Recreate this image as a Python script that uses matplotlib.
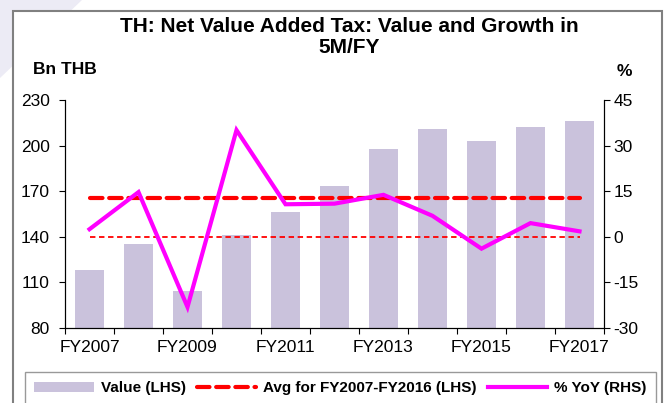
import numpy as np
import matplotlib.pyplot as plt
from matplotlib.patches import Rectangle, Polygon
from matplotlib.lines import Line2D

plt.rcParams['font.family'] = ['Liberation Sans', 'DejaVu Sans']
plt.rcParams['axes.unicode_minus'] = False

## data
years = ['FY2007', 'FY2008', 'FY2009', 'FY2010', 'FY2011', 'FY2012',
         'FY2013', 'FY2014', 'FY2015', 'FY2016', 'FY2017']
value_lhs = [118.1, 135.4, 104.1, 140.9, 156.4, 173.5, 197.6, 211.2, 203.1, 212.3, 216.0]
yoy_rhs = [2.5, 14.7, -23.1, 35.1, 10.7, 10.9, 13.8, 6.9, -3.9, 4.5, 1.8]
avg_value = 165.2
lhs_ticks = [80, 110, 140, 170, 200, 230]
rhs_ticks = [-30, -15, 0, 15, 30, 45]
shown_labels = ['FY2007', 'FY2009', 'FY2011', 'FY2013', 'FY2015', 'FY2017']

W, H = 669, 403
fig = plt.figure(figsize=(W/100, H/100), dpi=100)

## background decoration and outer frame
fig.patches.append(Polygon([(0, 1), (82/W, 1), (0, 1-78/H)], closed=True,
                           transform=fig.transFigure, facecolor='#ecebf5',
                           edgecolor='none', zorder=0))
fig.patches.append(Rectangle((13/W, -0.05), (662-13)/W, 1.05-11/H,
                             transform=fig.transFigure, facecolor='white',
                             edgecolor='#808080', linewidth=1.5, zorder=1))

ax = fig.add_axes([65/W, 1-328/H, (604-65)/W, (328-100)/H])
ax.set_zorder(2)
ax.patch.set_visible(False)
x = np.arange(len(years))

ax.bar(x, value_lhs, width=0.6, color='#cac2dc', zorder=1)
ax.plot(x, [avg_value]*len(x), color='#ff0000', linewidth=3,
        dashes=(3, 1.6), dash_capstyle='round', zorder=3)
ax.set_ylim(80, 230)
ax.set_yticks(lhs_ticks)
ax.set_xlim(-0.5, len(years)-0.5)
ax.set_xticks(np.arange(-0.5, len(years), 1))
ax.set_xticklabels([])
ax.set_xticks([years.index(s) for s in shown_labels], minor=True)
ax.set_xticklabels(shown_labels, minor=True)
ax.tick_params(axis='x', which='major', length=4, direction='out', width=0.8)
ax.tick_params(axis='x', which='minor', length=0, pad=9, labelsize=12.5)
ax.tick_params(axis='y', length=4, direction='out', pad=7, labelsize=12.5, width=0.8)
ax.spines['top'].set_visible(False)

ax2 = ax.twinx()
ax2.plot(x, [0]*len(x), color='#ff0000', linewidth=1.3, dashes=(3, 2))
ax2.plot(x, yoy_rhs, color='#ff00ff', linewidth=3, solid_joinstyle='miter')
ax2.set_ylim(-30, 45)
ax2.set_yticks(rhs_ticks)
ax2.tick_params(axis='y', length=4, direction='out', pad=3, labelsize=12.5, width=0.8)
ax2.spines['top'].set_visible(False)

fig.text(349/W, 1-37/H, 'TH: Net Value Added Tax: Value and Growth in\n5M/FY',
         ha='center', va='center', fontsize=15, fontweight='bold',
         linespacing=1.1, zorder=5)
fig.text(33/W, 1-69/H, 'Bn THB', ha='left', va='center', fontsize=12.5,
         fontweight='bold', zorder=5)
fig.text(624/W, 1-72/H, '%', ha='center', va='center', fontsize=12.5,
         fontweight='bold', zorder=5)

handles = [Rectangle((0, 0), 1, 1, facecolor='#cac2dc', edgecolor='none'),
           Line2D([], [], color='#ff0000', linewidth=3, dashes=(3, 1.6),
                  dash_capstyle='round'),
           Line2D([], [], color='#ff00ff', linewidth=3)]
labels = ['Value (LHS)', 'Avg for FY2007-FY2016 (LHS)', '% YoY (RHS)']
leg = fig.legend(handles, labels, loc='upper left',
                 bbox_to_anchor=(25/W, 1-372/H), borderaxespad=0, ncol=3,
                 prop={'weight': 'bold', 'size': 11}, handlelength=3.9,
                 handleheight=0.6, handletextpad=0.45, columnspacing=0.72,
                 borderpad=0.6, fancybox=False, frameon=True)
leg.get_frame().set_edgecolor('#808080')
leg.get_frame().set_linewidth(1.0)
leg.set_zorder(5)

fig.savefig('out.png', dpi=100)
